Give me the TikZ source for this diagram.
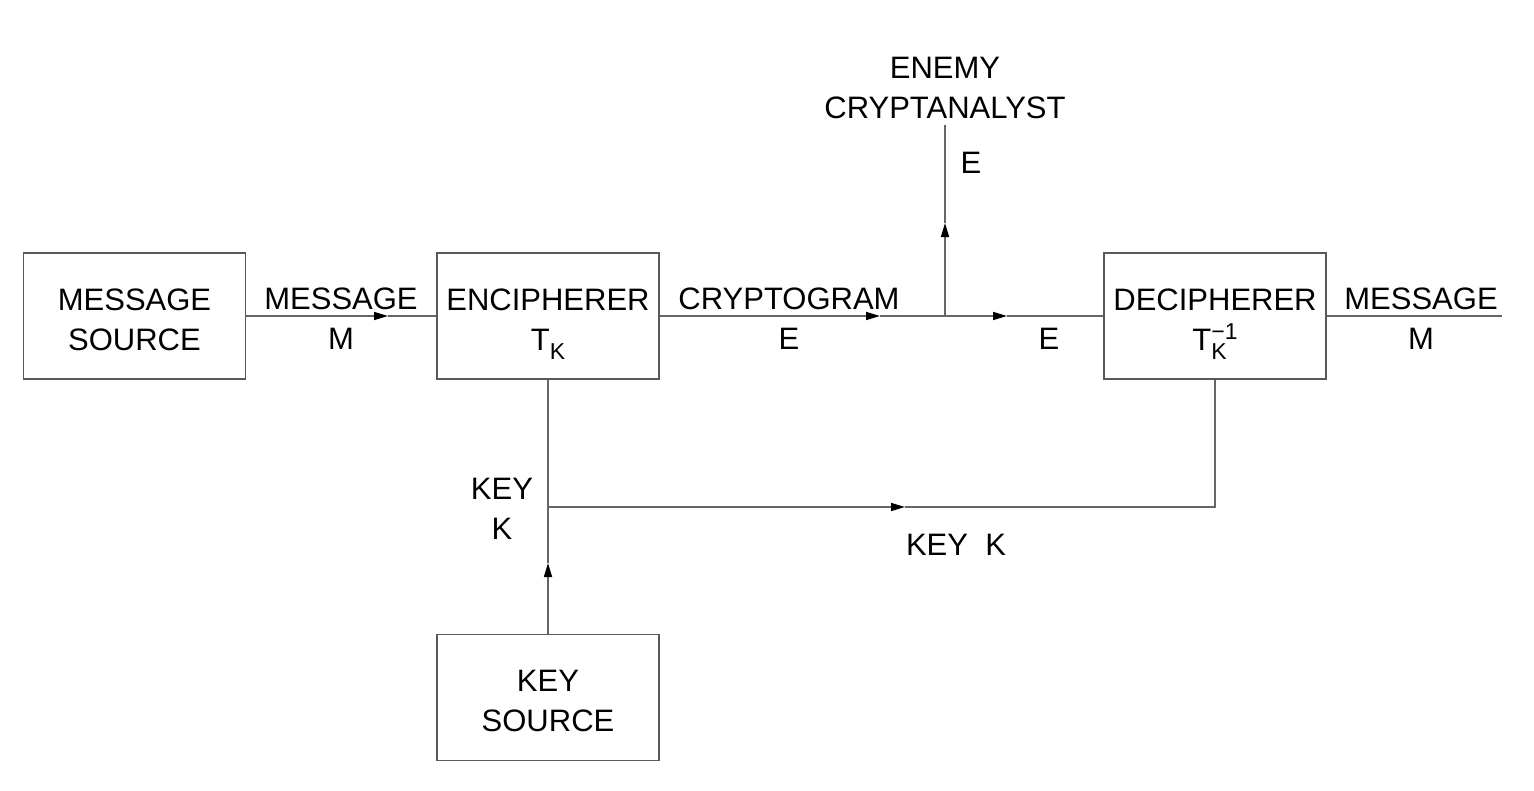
\documentclass[tikz,border=0pt]{standalone}
\usepackage{fontspec}
\setmainfont{Liberation Sans}
\usetikzlibrary{arrows.meta}
\newcommand\lblfont{\fontsize{31}{40}\selectfont}
\newcommand\smallidx[1]{{\fontsize{23}{23}\selectfont #1}}
\newcommand\subK{\raisebox{-9pt}[0pt][0pt]{\smallidx{K}}}
\newcommand\supinv{\raisebox{11pt}[0pt][0pt]{\smallidx{−1}}}
\begin{document}
\begin{tikzpicture}[x=1pt,y=-1pt,
  wire/.style={draw=black!60, line width=1.6pt},
  tipped/.style={wire, -{Triangle[length=14pt,width=8pt,color=black]}},
  blk/.style={draw=black!65, line width=1.6pt, minimum width=222pt,
    minimum height=126pt, inner sep=0pt, align=center, font=\lblfont,
    text height=68pt, text depth=0pt},
  lbl/.style={font=\lblfont, align=center, inner sep=0pt}]
\useasboundingbox (0,0) rectangle (1534,790);

% blocks
\node[blk] (ms)  at (134.5,316) {MESSAGE\\SOURCE};
\node[blk] (enc) at (548,316)   {ENCIPHERER\\T\subK};
\node[blk] (dec) at (1215,316)  {DECIPHERER\\T\rlap{\subK}\supinv};
\node[blk] (ks)  at (548,697.5) {KEY\\SOURCE};

% labels
\node[lbl] (lm1) at (341,318.5)  {MESSAGE\\M};
\node[lbl] (lcr) at (789,318.5)  {CRYPTOGRAM\\E};
\node[lbl] (le2) at (1049,339)   {E};
\node[lbl] (lm2) at (1421,318.5) {MESSAGE\\M};
\node[lbl] (len) at (945,87.5)   {ENEMY\\CRYPTANALYST};
\node[lbl] (le1) at (971,163)    {E};
\node[lbl] (lk1) at (502,509)    {KEY\\K};
\node[lbl] (lk2) at (956,545)    {KEY\ \ K};

% connector points
\coordinate (a1) at (388,316);
\coordinate (a2) at (880,316);
\coordinate (tap) at (945,316);
\coordinate (a3) at (1007,316);
\coordinate (a4) at (945,223);
\coordinate (top) at (945,125);
\coordinate (out) at (1502,316);
\coordinate (kj) at (548,507);
\coordinate (a5) at (548,563);
\coordinate (a6) at (905,507);
\coordinate (kc) at (1215,507);

% message path
\draw[tipped] (ms.east) -- (a1);
\draw[wire] (a1) -- (enc.west);
\draw[tipped] (enc.east) -- (a2);
\draw[wire] (a2) -- (tap);
\draw[tipped] (tap) -- (a3);
\draw[wire] (a3) -- (dec.west);
\draw[wire] (dec.east) -- (out);

% tap to the enemy
\draw[tipped] (tap) -- (a4);
\draw[wire] (a4) -- (top);

% key path
\draw[tipped] (ks.north) -- (a5);
\draw[wire] (a5) -- (kj) -- (enc.south);
\draw[tipped] (kj) -- (a6);
\draw[wire] (a6) -- (kc) -- (dec.south);
\end{tikzpicture}
\end{document}
